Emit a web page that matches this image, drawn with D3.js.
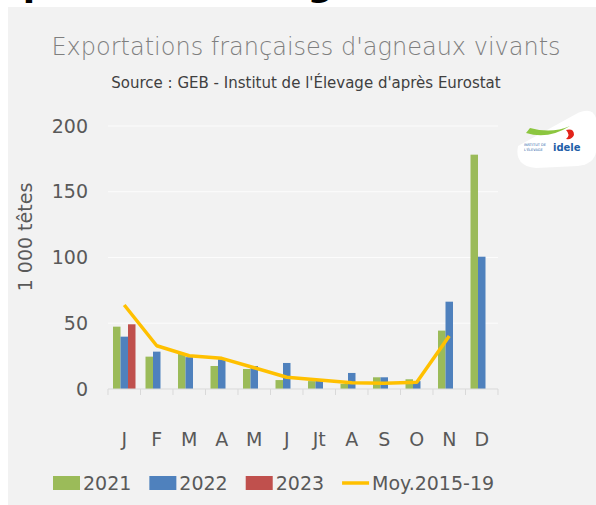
<!DOCTYPE html>
<html>
<head>
<meta charset="utf-8">
<script src="https://cdn.jsdelivr.net/npm/d3@7/dist/d3.min.js"></script>
<style>
body { margin: 0; background: #fff; }
svg { display: block; }
</style>
</head>
<body>
<div id="chart"></div>
<script>
// data (1 000 heads)
var months = ["J", "F", "M", "A", "M", "J", "Jt", "A", "S", "O", "N", "D"];
var exp2021 = [47.4, 24.6, 26.6, 17.5, 15.2, 6.8, 6.0, 3.8, 8.9, 7.4, 44.4, 178.2];
var exp2022 = [39.8, 28.4, 24.2, 22.6, 17.5, 19.8, 6.5, 12.2, 8.9, 6.0, 66.4, 100.6];
var exp2023 = [49.2, null, null, null, null, null, null, null, null, null, null, null];
var moy1519 = [63.9, 32.9, 25.3, 23.3, 16.2, 8.9, 6.8, 4.8, 4.3, 5.1, 40.3, null];
var barNames = ["2021", "2022", "2023"];
var lineName = "Moy.2015-19";
var yTicks = [0, 50, 100, 150, 200];

var width = 596, height = 505;
var plotLeft = 108, plotRight = 498, plotTop = 126, plotBottom = 389;
var barColors = ["#9bbb59", "#4f81bd", "#c0504d"];
var lineColor = "#ffc000";
var axisText = "#595959";
var font = "'DejaVu Sans', sans-serif";

var svg = d3.select("#chart").append("svg")
    .attr("width", width)
    .attr("height", height);

// heading of the page above, cut off
svg.append("text")
    .attr("x", -25)
    .attr("y", -4.5)
    .style("font-family", font)
    .style("font-weight", "bold")
    .style("font-size", "36px")
    .attr("fill", "#000")
    .text("Exportations d'agneaux vivants");

// chart panel
svg.append("rect")
    .attr("x", 8).attr("y", 7)
    .attr("width", width - 8).attr("height", height - 7)
    .attr("fill", "#f2f2f2");

svg.append("text")
    .attr("x", 306).attr("y", 55)
    .attr("text-anchor", "middle")
    .style("font-family", font)
    .style("font-weight", 200)
    .style("font-size", "24px")
    .attr("fill", "#7f7f7f")
    .text("Exportations françaises d'agneaux vivants");

svg.append("text")
    .attr("x", 306).attr("y", 88)
    .attr("text-anchor", "middle")
    .style("font-family", font)
    .style("font-size", "15px")
    .attr("fill", "#404040")
    .text("Source : GEB - Institut de l'Élevage d'après Eurostat");

// scales
var x = d3.scaleBand().domain(d3.range(months.length)).range([plotLeft, plotRight]);
var xs = d3.scaleBand().domain(d3.range(barNames.length)).range([5, x.bandwidth() - 5]);
var y = d3.scaleLinear().domain([0, 200]).range([plotBottom, plotTop]);

// grid lines
svg.append("g").selectAll("line").data(yTicks.slice(1)).enter().append("line")
    .attr("x1", plotLeft).attr("x2", plotRight)
    .attr("y1", function (d) { return y(d); })
    .attr("y2", function (d) { return y(d); })
    .style("stroke", "#fcfcfc");

// y axis labels
var yAxis = svg.append("g")
    .attr("transform", "translate(" + plotLeft + ",0)")
    .call(d3.axisLeft(y).tickValues(yTicks).tickSize(0).tickPadding(20));
yAxis.select(".domain").remove();
yAxis.selectAll("text")
    .style("font-family", font)
    .style("font-size", "19px")
    .attr("fill", axisText);

svg.append("text")
    .attr("transform", "translate(32,237) rotate(-90)")
    .attr("text-anchor", "middle")
    .style("font-family", font)
    .style("font-size", "19px")
    .attr("fill", axisText)
    .text("1 000 têtes");

// bars
var series = [exp2021, exp2022, exp2023];
series.forEach(function (vals, s) {
    svg.append("g").selectAll("rect")
        .data(vals.map(function (v, i) { return { i: i, v: v }; }).filter(function (d) { return d.v != null; }))
        .enter().append("rect")
        .attr("x", function (d) { return x(d.i) + xs(s); })
        .attr("y", function (d) { return y(d.v); })
        .attr("width", xs.bandwidth())
        .attr("height", function (d) { return y(0) - y(d.v); })
        .attr("fill", barColors[s]);
});

// x axis
svg.append("line")
    .attr("x1", plotLeft).attr("x2", plotRight)
    .attr("y1", y(0)).attr("y2", y(0))
    .style("stroke", "#d9d9d9");
svg.append("g").selectAll("line").data(d3.range(months.length + 1)).enter().append("line")
    .attr("x1", function (i) { return plotLeft + i * x.step(); })
    .attr("x2", function (i) { return plotLeft + i * x.step(); })
    .attr("y1", y(0)).attr("y2", y(0) + 6)
    .style("stroke", "#d9d9d9");

var xAxis = svg.append("g")
    .attr("transform", "translate(0," + y(0) + ")")
    .call(d3.axisBottom(x).tickSize(0).tickPadding(44).tickFormat(function (i) { return months[i]; }));
xAxis.select(".domain").remove();
xAxis.selectAll("text")
    .style("font-family", font)
    .style("font-size", "19px")
    .attr("fill", axisText);

// average line
var line = d3.line()
    .defined(function (d) { return d != null; })
    .x(function (d, i) { return x(i) + x.bandwidth() / 2; })
    .y(function (d) { return y(d); });
svg.append("path")
    .datum(moy1519)
    .attr("d", line)
    .attr("fill", "none")
    .attr("stroke", lineColor)
    .attr("stroke-width", 3.5)
    .attr("stroke-linejoin", "round");

// legend
var legend = svg.append("g").attr("transform", "translate(53,483)");
var lx = 0;
barNames.concat([lineName]).forEach(function (name, k) {
    var g = legend.append("g").attr("transform", "translate(" + lx + ",0)");
    if (k < barNames.length) {
        g.append("rect").attr("x", 0).attr("y", -7).attr("width", 27).attr("height", 14)
            .attr("fill", barColors[k]);
    } else {
        g.append("line").attr("x1", 0).attr("x2", 27).attr("y1", 0).attr("y2", 0)
            .attr("stroke", lineColor).attr("stroke-width", 3.5);
    }
    var t = g.append("text")
        .attr("x", 30).attr("y", 0).attr("dy", "0.36em")
        .style("font-family", font)
        .style("font-size", "19px")
        .attr("fill", axisText)
        .text(name);
    lx += 30 + t.node().getComputedTextLength() + 18;
});

// idele logo
var logo = svg.append("g");
logo.append("path")
    .attr("d", "M518,146 Q514,166 536,168 L578,166 Q594,164 596,152 L596,118 Q592,106 576,114 Z")
    .attr("fill", "#fff");
logo.append("path")
    .attr("d", "M526,133 Q548,140 570,126 Q552,134 530,128 Z")
    .attr("fill", "#8cc63f");
logo.append("path")
    .attr("d", "M566,130 Q574,128 574,135 Q572,140 566,139 Q571,135 566,130 Z")
    .attr("fill", "#e2231a");
logo.append("text")
    .attr("x", 553).attr("y", 151)
    .style("font-family", font)
    .style("font-weight", "bold")
    .style("font-size", "10px")
    .attr("fill", "#1f5fa8")
    .text("idele");
logo.append("text")
    .attr("x", 524).attr("y", 146)
    .style("font-family", font)
    .style("font-size", "3.5px")
    .attr("fill", "#1f5fa8")
    .text("INSTITUT DE");
logo.append("text")
    .attr("x", 524).attr("y", 150.5)
    .style("font-family", font)
    .style("font-size", "3.5px")
    .attr("fill", "#1f5fa8")
    .text("L'ÉLEVAGE");
</script>
</body>
</html>
